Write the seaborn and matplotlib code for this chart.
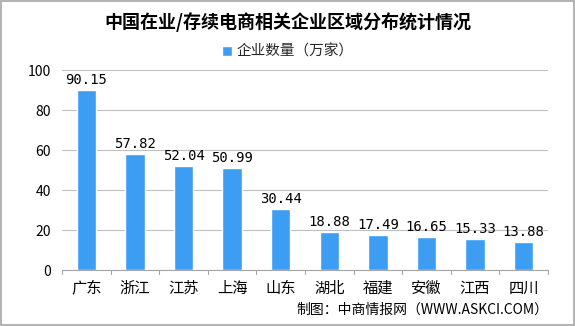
import matplotlib
matplotlib.use("Agg")
import matplotlib.pyplot as plt
import seaborn as sns
import pandas as pd

regions = ["广东", "浙江", "江苏", "上海", "山东", "湖北", "福建", "安徽", "江西", "四川"]
values = [90.15, 57.82, 52.04, 50.99, 30.44, 18.88, 17.49, 16.65, 15.33, 13.88]
series_name = "企业数量（万家）"
title = "中国在业/存续电商相关企业区域分布统计情况"
source = "制图：中商情报网（WWW.ASKCI.COM）"

sns.set_theme(style="white")
plt.rcParams['font.family'] = ['Noto Sans CJK SC', 'DejaVu Sans']

df = pd.DataFrame({"region": regions, "value": values})

fig = plt.figure(figsize=(5.75, 3.26), dpi=100)
ax = fig.add_axes([62/575, 1 - 270/326, (548-62)/575, 200/326])

color = "#3d9df3"
sns.barplot(data=df, x="region", y="value", color=color, width=0.4, ax=ax,
            saturation=1, label=series_name)

ax.set_ylim(0, 100)
ax.set_yticks([0, 20, 40, 60, 80, 100])
ax.set_xlim(-0.5, len(regions) - 0.5)
ax.yaxis.grid(True, color="#bfbfbf", linewidth=0.8)
ax.set_axisbelow(True)
for s in ["top", "right", "left"]:
    ax.spines[s].set_visible(False)
ax.spines["bottom"].set_color("#a6a6a6")
ax.spines["bottom"].set_linewidth(0.8)
ax.set_xlabel("")
ax.set_ylabel("")
ax.tick_params(axis="y", length=0, labelsize=10, pad=8, colors="#000000")
ax.tick_params(axis="x", length=0, labelsize=11, pad=7, colors="#000000")
# boundary tick marks
for b in range(len(regions) + 1):
    ax.plot([b - 0.5, b - 0.5], [0, -2], color="#a6a6a6", lw=0.8, clip_on=False)

for i, v in enumerate(values):
    ax.text(i, v + 1.5, f"{v:.2f}", ha="center", va="bottom", fontsize=10,
            family=["DejaVu Sans Mono", "DejaVu Sans"], color="#000000")

fig.text(0.5, 1 - 22/326, title, ha="center", va="center", fontsize=13,
         fontweight="bold", color="#000000")
leg = ax.legend(loc="center", bbox_to_anchor=(0.5, 1 - 52/326), bbox_transform=fig.transFigure,
                frameon=False, fontsize=10.5, handlelength=0.7, handleheight=0.7,
                handletextpad=0.3)
fig.text(548/575, 1 - 310/326, source, ha="right", va="center", fontsize=10, color="#000000")

border = plt.Rectangle((0.001, 0.002), 0.997, 0.996, transform=fig.transFigure,
                       fill=False, edgecolor="#a6a6a6", linewidth=1.2)
fig.patches.append(border)

fig.savefig("out.png", dpi=100)
